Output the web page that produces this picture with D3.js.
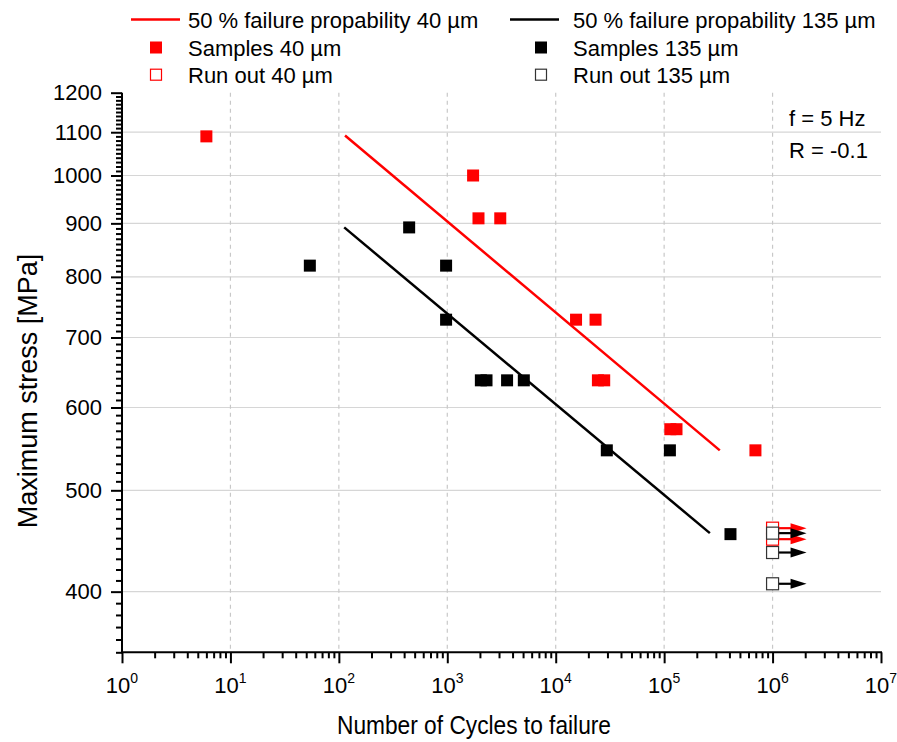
<!DOCTYPE html>
<html>
<head>
<meta charset="utf-8">
<script src="https://cdn.jsdelivr.net/npm/d3@7"></script>
<style>
body { margin: 0; background: #fff; }
svg text { font-family: "Liberation Sans", Arial, sans-serif; fill: #000; }
</style>
</head>
<body>
<div id="chart"></div>
<script>
// values: [cycles to failure, max stress in MPa]
var samples40 = [[6, 1090], [1730, 1000], [1940, 910], [3080, 910], [15400, 728], [23300, 728],
  [24500, 637], [28000, 637], [114000, 572], [130000, 572], [695000, 546]];
var samples135 = [[54, 820], [445, 892], [975, 820], [975, 728], [2040, 637], [2300, 637],
  [3560, 637], [5080, 637], [29600, 546], [113000, 546], [409000, 454]];
var runout40 = [[1e6, 460], [1e6, 449]];
var runout135 = [[1e6, 455], [1e6, 436], [1e6, 407]];
var fit40 = [[114, 1092], [326000, 546]];
var fit135 = [[112, 892], [264000, 455]];

var xTicks = [1, 10, 100, 1e3, 1e4, 1e5, 1e6, 1e7];
var xTickExp = ['0', '1', '2', '3', '4', '5', '6', '7'];
var yTicks = [400, 500, 600, 700, 800, 900, 1000, 1100, 1200];
var legendLabels = ['50 % failure propability 40 µm', 'Samples 40 µm', 'Run out 40 µm',
  '50 % failure propability 135 µm', 'Samples 135 µm', 'Run out 135 µm'];
var notes = ['f = 5 Hz', 'R = -0.1'];

var size = { w: 897, h: 742 };
var plot = { l: 122, r: 881, t: 92.7, b: 652.3 };
var red = '#ff0000';

var svg = d3.select('#chart').append('svg')
  .attr('width', size.w)
  .attr('height', size.h);

var x = d3.scaleLog().domain([1, 1e7]).range([plot.l, plot.r]);
var y = d3.scaleLog().domain([350, 1200]).range([plot.b, plot.t]);

// grid
var grid = svg.append('g').attr('class', 'grid');
grid.selectAll('line.h').data(yTicks.slice(0, -1)).enter().append('line')
  .attr('class', 'h')
  .attr('x1', plot.l).attr('x2', plot.r)
  .attr('y1', function(d) { return y(d); })
  .attr('y2', function(d) { return y(d); })
  .attr('stroke', '#d6d6d6').attr('stroke-width', 1.2);
grid.selectAll('line.v').data(xTicks.slice(1, -1)).enter().append('line')
  .attr('class', 'v')
  .attr('x1', function(d) { return x(d); })
  .attr('x2', function(d) { return x(d); })
  .attr('y1', plot.t).attr('y2', plot.b)
  .attr('stroke', '#c8c8c8').attr('stroke-width', 1.2)
  .attr('stroke-dasharray', '4,4');

// x axis: decades with minor ticks 2..9
var xMinor = [];
xTicks.slice(0, -1).forEach(function(d) {
  for (var k = 2; k < 10; k++) xMinor.push(d * k);
});
var xAxis = svg.append('g')
  .attr('transform', 'translate(0,' + plot.b + ')');
xAxis.call(d3.axisBottom(x).tickValues(xMinor).tickSize(6).tickFormat(''))
  .call(function(g) { g.select('.domain').remove(); });
xAxis.append('g')
  .call(d3.axisBottom(x).tickValues(xTicks).tickSize(11).tickFormat(''))
  .call(function(g) { g.select('.domain').remove(); });
xAxis.selectAll('line').attr('stroke', '#000').attr('stroke-width', 2);
var xLabels = xAxis.append('g').selectAll('text').data(xTicks).enter().append('text')
  .attr('x', function(d) { return x(d); })
  .attr('y', 41)
  .attr('text-anchor', 'middle')
  .style('font-size', '22px');
xLabels.append('tspan').text('10');
xLabels.append('tspan')
  .attr('dy', -10)
  .style('font-size', '14px')
  .text(function(d, i) { return xTickExp[i]; });
xAxis.append('line')
  .attr('x1', plot.l - 1).attr('x2', plot.r + 1)
  .attr('stroke', '#000').attr('stroke-width', 2);

// y axis: minor tick every 10 MPa
var yMinor = d3.range(350, 1201, 10).filter(function(d) { return d % 100 != 0; });
var yAxis = svg.append('g')
  .attr('transform', 'translate(' + plot.l + ',0)');
yAxis.call(d3.axisLeft(y).tickValues(yMinor).tickSize(6).tickFormat(''))
  .call(function(g) { g.select('.domain').remove(); });
yAxis.append('g')
  .call(d3.axisLeft(y).tickValues(yTicks).tickSize(11).tickPadding(9).tickFormat(d3.format('d')))
  .call(function(g) {
    g.select('.domain').remove();
    g.selectAll('text')
      .style('font-size', '22px')
      .style('font-family', '"Liberation Sans", Arial, sans-serif')
      .attr('fill', '#000');
  });
yAxis.selectAll('line').attr('stroke', '#000').attr('stroke-width', 2);
yAxis.append('line')
  .attr('y1', plot.t).attr('y2', plot.b + 1)
  .attr('stroke', '#000').attr('stroke-width', 2);

// axis titles
svg.append('text')
  .attr('x', 474)
  .attr('y', 734)
  .attr('text-anchor', 'middle')
  .attr('textLength', 274)
  .attr('lengthAdjust', 'spacingAndGlyphs')
  .style('font-size', '26px')
  .text('Number of Cycles to failure');
svg.append('text')
  .attr('transform', 'translate(37,' + 391 + ') rotate(-90)')
  .attr('text-anchor', 'middle')
  .style('font-size', '27px')
  .text('Maximum stress [MPa]');

// fitted lines
var line = d3.line()
  .x(function(d) { return x(d[0]); })
  .y(function(d) { return y(d[1]); });
svg.append('path').datum(fit40).attr('d', line)
  .attr('fill', 'none').attr('stroke', red).attr('stroke-width', 2.5);
svg.append('path').datum(fit135).attr('d', line)
  .attr('fill', 'none').attr('stroke', '#000').attr('stroke-width', 2.5);

// squares
var sq = 12;
function drawSquares(data, fill) {
  svg.append('g').selectAll('rect').data(data).enter().append('rect')
    .attr('x', function(d) { return x(d[0]) - sq / 2; })
    .attr('y', function(d) { return y(d[1]) - sq / 2; })
    .attr('width', sq).attr('height', sq)
    .attr('fill', fill);
}
drawSquares(samples40, red);
drawSquares(samples135, '#000');

// run outs with arrows to the right
function drawRunouts(data, color) {
  var g = svg.append('g');
  g.selectAll('line').data(data).enter().append('line')
    .attr('x1', function(d) { return x(d[0]) + sq / 2; })
    .attr('x2', function(d) { return x(d[0]) + 22; })
    .attr('y1', function(d) { return y(d[1]); })
    .attr('y2', function(d) { return y(d[1]); })
    .attr('stroke', color).attr('stroke-width', 2.2);
  g.selectAll('path').data(data).enter().append('path')
    .attr('d', function(d) {
      var px = x(d[0]), py = y(d[1]);
      return 'M' + (px + 18) + ',' + (py - 5) + 'L' + (px + 34) + ',' + py + 'L' + (px + 18) + ',' + (py + 5) + 'Z';
    })
    .attr('fill', color);
  g.selectAll('rect').data(data).enter().append('rect')
    .attr('x', function(d) { return x(d[0]) - sq / 2; })
    .attr('y', function(d) { return y(d[1]) - sq / 2; })
    .attr('width', sq).attr('height', sq)
    .attr('fill', '#fff')
    .attr('stroke', color == '#000' ? '#333' : color)
    .attr('stroke-width', 1.2);
}
drawRunouts(runout40, red);
drawRunouts(runout135, '#000');

// legend
var legend = svg.append('g').attr('class', 'legend');
var legendCols = [
  { line: [131, 180], mark: 156, text: 188, color: red },
  { line: [510, 559], mark: 541, text: 573, color: '#000' }
];
var rowY = [19.5, 47.5, 74.7];
legendCols.forEach(function(c, ci) {
  legend.append('line')
    .attr('x1', c.line[0]).attr('x2', c.line[1])
    .attr('y1', rowY[0]).attr('y2', rowY[0])
    .attr('stroke', c.color).attr('stroke-width', 2.5);
  legend.append('rect')
    .attr('x', c.mark - 6).attr('y', rowY[1] - 6)
    .attr('width', 12).attr('height', 12)
    .attr('fill', c.color);
  legend.append('rect')
    .attr('x', c.mark - 5.5).attr('y', rowY[2] - 5.5)
    .attr('width', 11).attr('height', 11)
    .attr('fill', '#fff')
    .attr('stroke', ci == 0 ? red : '#333').attr('stroke-width', 1.2);
  legend.selectAll('text.c' + ci).data(legendLabels.slice(ci * 3, ci * 3 + 3)).enter().append('text')
    .attr('class', 'c' + ci)
    .attr('x', c.text)
    .attr('y', function(d, i) { return rowY[i] + 8; })
    .style('font-size', '22px')
    .text(function(d) { return d; });
});

// test conditions
svg.selectAll('text.note').data(notes).enter().append('text')
  .attr('class', 'note')
  .attr('x', 789)
  .attr('y', function(d, i) { return 126 + i * 32; })
  .style('font-size', '22px')
  .text(function(d) { return d; });
</script>
</body>
</html>
